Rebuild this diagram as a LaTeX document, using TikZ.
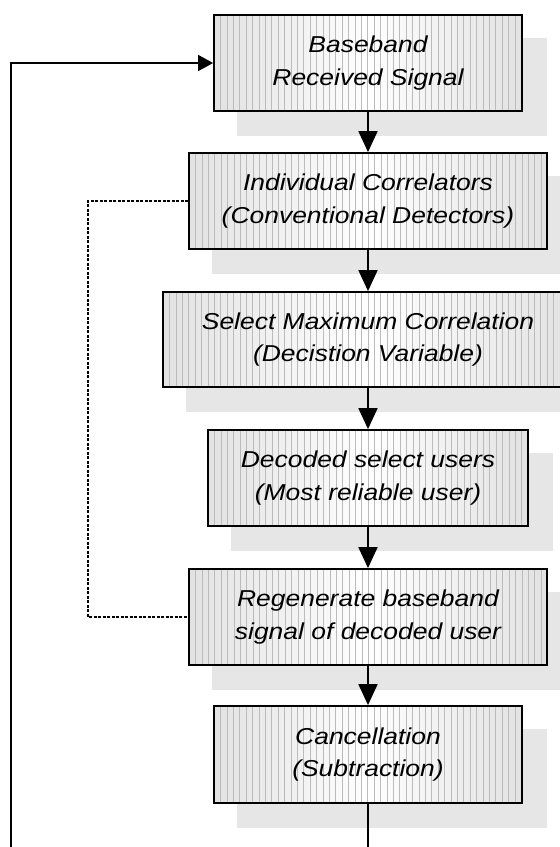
\documentclass[tikz,border=0pt]{standalone}
\usepackage{fontspec}
\setmainfont{Liberation Sans}
\newfontfamily\boxfont[FakeStretch=1.15]{Liberation Sans}
\usetikzlibrary{arrows.meta,backgrounds}
\definecolor{shadowcol}{HTML}{E6E6E6}
\definecolor{hatch}{HTML}{BBBBBB}
\definecolor{edgefill}{HTML}{E2E2E2}
\tikzset{
  procbox/.style={draw=black, line width=1.8pt, inner sep=0pt, align=center,
    font=\boxfont\fontsize{23}{32.5}\selectfont\itshape,
    path picture={
      \shade[left color=edgefill, right color=edgefill, middle color=white]
        (path picture bounding box.south west) rectangle (path picture bounding box.north east);
      \foreach \k in {1,...,70}
        \draw[hatch, line width=0.55pt]
          ([xshift=\k*6.4pt]path picture bounding box.south west) --
          ([xshift=\k*6.4pt]path picture bounding box.north west);
    }},
  conn/.style={line width=1.8pt, draw=black},
  downarrow/.style={conn, -{Triangle[length=21pt,width=19pt]}},
  backarrow/.style={conn, -{Triangle[length=15pt,width=16pt]}},
  feedback/.style={line width=1.3pt, dash pattern=on 3pt off 1.5pt},
  shadowbox/.style={fill=shadowcol, draw=none}
}
\begin{document}
\begin{tikzpicture}[x=1pt,y=-1pt]
\useasboundingbox (0,0) rectangle (560,847);
\clip (0,0) rectangle (560,847);

\node[procbox, minimum width=308pt, minimum height=96pt] (b1) at (368,63)
  {Baseband\\Received Signal};
\node[procbox, minimum width=358pt, minimum height=96pt] (b2) at (368,201)
  {Individual Correlators\\(Conventional Detectors)};
\node[procbox, minimum width=410pt, minimum height=95pt] (b3) at (368,339.5)
  {Select Maximum Correlation\\(Decistion Variable)};
\node[procbox, minimum width=320pt, minimum height=96pt] (b4) at (368,478)
  {Decoded select users\\(Most reliable user)};
\node[procbox, minimum width=358pt, minimum height=96pt] (b5) at (368,617)
  {Regenerate baseband\\signal of decoded user};
\node[procbox, minimum width=308pt, minimum height=97pt] (b6) at (368,754.5)
  {Cancellation\\(Subtraction)};

\begin{scope}[on background layer]
  \fill[white] (0,0) rectangle (560,847);
  \foreach \n in {b1,b2,b3,b4,b5,b6}
    \fill[shadowbox] ([shift={(24,24)}]\n.north west) rectangle ([shift={(24,24)}]\n.south east);
\end{scope}

\draw[downarrow] (b1.south) -- (b2.north);
\draw[downarrow] (b2.south) -- (b3.north);
\draw[downarrow] (b3.south) -- (b4.north);
\draw[downarrow] (b4.south) -- (b5.north);
\draw[downarrow] (b5.south) -- (b6.north);

\coordinate (fb) at (368,880);
\coordinate (fl) at (11,880);
\draw[backarrow] (b6.south) -- (fb) -- (fl) |- (b1.west);

\coordinate (dl) at (88,201);
\draw[feedback] (b2.west) -- (dl) |- (b5.west);
\end{tikzpicture}
\end{document}
